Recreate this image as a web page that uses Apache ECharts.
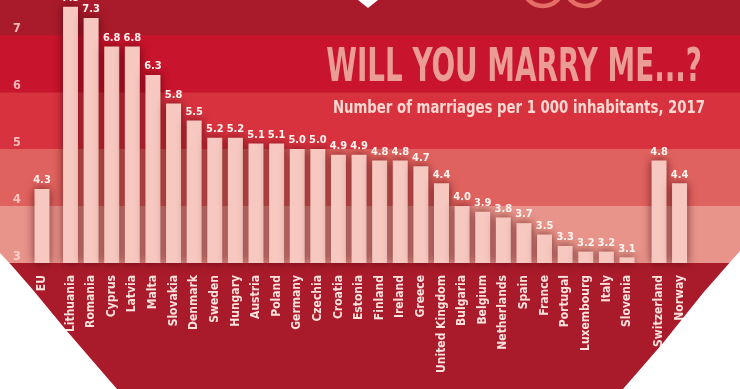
<!DOCTYPE html>
<html>
<head>
<meta charset="utf-8">
<script src="https://cdn.jsdelivr.net/npm/echarts@6/dist/echarts.min.js"></script>
<style>
html,body{margin:0;padding:0;background:#fff;}
#chart{width:740px;height:389px;}
</style>
</head>
<body>
<div id="chart"></div>
<script>
// ---- data ----
var euCategories = ['EU'];
var euValues = [4.3];
var memberCategories = ['Lithuania','Romania','Cyprus','Latvia','Malta','Slovakia','Denmark','Sweden','Hungary','Austria','Poland','Germany','Czechia','Croatia','Estonia','Finland','Ireland','Greece','United Kingdom','Bulgaria','Belgium','Netherlands','Spain','France','Portugal','Luxembourg','Italy','Slovenia'];
var memberValues = [7.5,7.3,6.8,6.8,6.3,5.8,5.5,5.2,5.2,5.1,5.1,5.0,5.0,4.9,4.9,4.8,4.8,4.7,4.4,4.0,3.9,3.8,3.7,3.5,3.3,3.2,3.2,3.1];
var eftaCategories = ['Switzerland','Norway'];
var eftaValues = [4.8,4.4];
var bandEdges = [3,4,5,6,7];
var bandColors = ['#e8948a','#e0625e','#d8323f','#c8142c'];
var titleText = 'WILL YOU MARRY ME...?';
var subtitleText = 'Number of marriages per 1 000 inhabitants, 2017';

var FONT = '"Liberation Sans Narrow","Arial Narrow","DejaVu Sans Condensed",sans-serif';
var Y_MIN = 3, Y_MAX = 7.6;
var gridTop = 1, gridHeight = 262;

function grid(left, width) {
  return {left: left, width: width, top: gridTop, height: gridHeight, containLabel: false, outerBoundsMode: 'none'};
}
function catAxis(idx, cats) {
  return {
    type: 'category', gridIndex: idx, data: cats, z: 5,
    axisLine: {show: false}, axisTick: {show: false},
    axisLabel: {rotate: 90, interval: 0, margin: 12, color: '#fbe2dd', fontFamily: FONT, fontWeight: 'bold', fontSize: 12}
  };
}
function valAxis(idx, showLabels) {
  return {
    type: 'value', gridIndex: idx, min: Y_MIN, max: Y_MAX, interval: 1, z: 10,
    splitLine: {show: false}, axisLine: {show: false}, axisTick: {show: false},
    axisLabel: showLabels ? {inside: true, margin: 13, showMaxLabel: false, showMinLabel: true, hideOverlap: false,
      color: 'rgba(255,222,216,0.8)', fontFamily: FONT, fontWeight: 'bold', fontSize: 12.5, verticalAlign: 'bottom', padding: [0,0,0,0]} : {show: false}
  };
}
function barSeries(idx, values) {
  return {
    type: 'bar', xAxisIndex: idx, yAxisIndex: idx, data: values, barWidth: 15, z: 3,
    itemStyle: {color: '#f6c8bf', shadowColor: 'rgba(70,0,10,0.7)', shadowBlur: 10},
    label: {show: true, position: 'top', distance: 3, color: '#fff4f0', fontFamily: FONT, fontWeight: 'bold', fontSize: 11,
      formatter: function (p) { return p.value.toFixed(1); }}
  };
}

var bands = [];
for (var i = 0; i < bandColors.length; i++) {
  bands.push([{yAxis: bandEdges[i], itemStyle: {color: bandColors[i]}}, {yAxis: bandEdges[i + 1]}]);
}

var chart = echarts.init(document.getElementById('chart'), null, {renderer: 'canvas'});
chart.setOption({
  backgroundColor: '#a91b2b',
  animation: false,
  grid: [grid(0, 740), grid(32, 20), grid(60.2, 577.1), grid(648.8, 41)],
  xAxis: [
    {type: 'value', gridIndex: 0, min: 0, max: 1, show: false},
    catAxis(1, euCategories), catAxis(2, memberCategories), catAxis(3, eftaCategories)
  ],
  yAxis: [valAxis(0, true), valAxis(1, false), valAxis(2, false), valAxis(3, false)],
  series: [
    {type: 'line', xAxisIndex: 0, yAxisIndex: 0, data: [[0, Y_MIN]], symbol: 'none', lineStyle: {opacity: 0}, z: 0, silent: true,
      markArea: {silent: true, data: bands}},
    barSeries(1, euValues), barSeries(2, memberValues), barSeries(3, eftaValues)
  ],
  graphic: [
    {type: 'text', x: 702, y: 46, scaleX: 0.672, z: 10,
      style: {text: titleText, font: 'bold 46px ' + FONT, fill: '#eb9c94', align: 'right', verticalAlign: 'top'}},
    {type: 'text', x: 705, y: 99, scaleX: 0.82, z: 10,
      style: {text: subtitleText, font: 'bold 18px ' + FONT, fill: '#f8d8d1', align: 'right', verticalAlign: 'top'}},
    {type: 'polygon', z: 10, shape: {points: [[358, 0], [378, 0], [368, 8]]}, style: {fill: '#ffffff'}},
    {type: 'circle', z: 10, shape: {cx: 543, cy: -14, r: 20}, style: {fill: 'none', stroke: '#e56f67', lineWidth: 4.5}},
    {type: 'circle', z: 10, shape: {cx: 585, cy: -14, r: 20}, style: {fill: 'none', stroke: '#e56f67', lineWidth: 4.5}},
    {type: 'polygon', z: 20, shape: {points: [[0, 253], [13, 267], [33, 290], [66, 330], [110, 381], [117, 389], [0, 389]]}, style: {fill: '#ffffff'}},
    {type: 'polygon', z: 20, shape: {points: [[740, 251], [732, 260], [703, 293], [663, 343], [623, 389], [740, 389]]}, style: {fill: '#ffffff'}}
  ]
});
</script>
</body>
</html>
